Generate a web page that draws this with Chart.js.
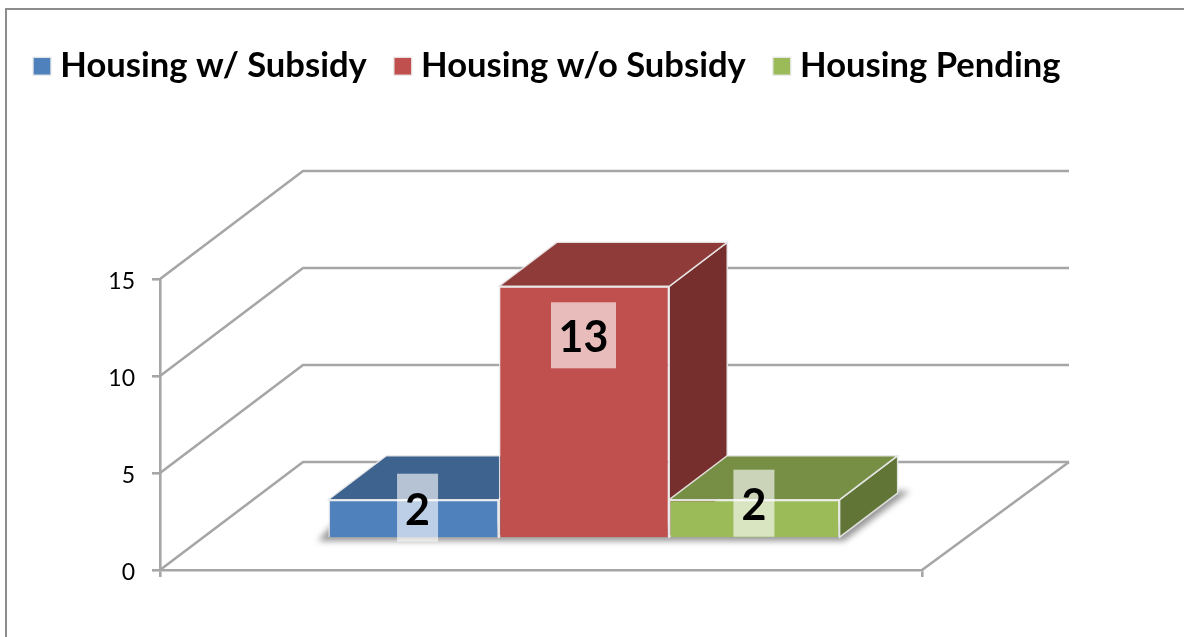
<!DOCTYPE html>
<html>
<head>
<meta charset="utf-8">
<title>Housing chart</title>
<script src="https://cdn.jsdelivr.net/npm/chart.js@4"></script>
<style>
  html, body { margin: 0; padding: 0; background: #fff; overflow: hidden; }
  canvas { display: block; }
</style>
</head>
<body>
<canvas id="housing" width="1184" height="637"></canvas>
<script>
// The values
var categories = [''];
var seriesNames = ['Housing w/ Subsidy', 'Housing w/o Subsidy', 'Housing Pending'];
var withSubsidy = [2];
var withoutSubsidy = [13];
var pending = [2];
var yMax = 15;
var yStep = 5;

// Colours per series: front, top, side
var frontColors = ['#4f81bd', '#c0504d', '#9bbb59'];
var topColors = ['#3e638f', '#8e3b39', '#778f45'];
var sideColors = ['#3a5a82', '#772f2d', '#617537'];
var gridColor = '#a6a6a6';
var edgeColor = 'rgba(235, 235, 235, 0.9)';

// Fake 3D geometry, in pixels
var wallDx = 143, wallDy = -108, wallDxRight = 147;
var barShiftX = 43, barShiftY = -31.5;
var barDepthX = 58, barDepthY = -44;
var labelBoxes = [[41, 68], [65, 66], [41, 67]];
var labelShift = [[4, 8], [-0.5, 49], [-0.5, 3.5]];

function poly(ctx, pts, fill, stroke) {
    ctx.beginPath();
    ctx.moveTo(pts[0][0], pts[0][1]);
    for (var i = 1; i < pts.length; i++) ctx.lineTo(pts[i][0], pts[i][1]);
    if (fill) { ctx.closePath(); ctx.fillStyle = fill; ctx.fill(); }
    if (stroke) { ctx.strokeStyle = stroke; ctx.stroke(); }
}

var fake3d = {
    id: 'fake3d',
    beforeInit: function (chart) {
        // push the plot area down, the legend stays on top
        var fit = chart.legend.fit;
        chart.legend.fit = function () {
            fit.call(this);
            this.height = 265;
        };
    },
    beforeDraw: function (chart) {
        var ctx = chart.ctx;
        // the frame only shows on top and left
        ctx.save();
        ctx.lineWidth = 2;
        poly(ctx, [[6, 637], [6, 9], [1184, 9]], null, '#8c8c8c');
        ctx.restore();
    },
    beforeDatasetsDraw: function (chart) {
        var ctx = chart.ctx, area = chart.chartArea, y = chart.scales.y;
        ctx.save();
        ctx.lineWidth = 2.6;
        y.ticks.forEach(function (t) {
            var py = y.getPixelForValue(t.value);
            poly(ctx, [
                [area.left, py],
                [area.left + wallDx, py + wallDy],
                [area.right + wallDxRight, py + wallDy]
            ], null, gridColor);
        });
        poly(ctx, [[area.right, area.bottom], [area.right + wallDxRight, area.bottom + wallDy]], null, gridColor);

        // soft shadow under the boxes
        ctx.filter = 'blur(3px)';
        poly(ctx, [[318, 541], [844, 541], [910, 491], [884, 491], [842, 525], [332, 525]], 'rgba(80, 80, 80, 0.6)');
        ctx.filter = 'none';

        // top and side faces, back to front
        ctx.lineWidth = 1.5;
        chart.data.datasets.forEach(function (ds, i) {
            var bar = chart.getDatasetMeta(i).data[0];
            var l = bar.x - bar.width / 2 + barShiftX, r = bar.x + bar.width / 2 + barShiftX;
            var t = bar.y + barShiftY, b = bar.base + barShiftY;
            poly(ctx, [[r, t], [r + barDepthX, t + barDepthY], [r + barDepthX, b + barDepthY], [r, b]], sideColors[i], edgeColor);
            poly(ctx, [[l, t], [l + barDepthX, t + barDepthY], [r + barDepthX, t + barDepthY], [r, t]], topColors[i], edgeColor);
        });
        ctx.restore();

        // the library draws the front faces on the shifted plane
        ctx.save();
        ctx.translate(barShiftX, barShiftY);
    },
    afterDatasetsDraw: function (chart) {
        var ctx = chart.ctx;
        ctx.restore();

        // value labels on pale boxes
        ctx.save();
        ctx.textAlign = 'center';
        ctx.textBaseline = 'middle';
        chart.data.datasets.forEach(function (ds, i) {
            var bar = chart.getDatasetMeta(i).data[0];
            var cx = bar.x + barShiftX + labelShift[i][0];
            var cy = bar.y + barShiftY + labelShift[i][1];
            var w = labelBoxes[i][0], h = labelBoxes[i][1];
            ctx.fillStyle = 'rgba(255, 255, 255, 0.62)';
            ctx.fillRect(cx - w / 2, cy - h / 2, w, h);
            ctx.fillStyle = '#000';
            ctx.font = 'bold 43px Lato';
            ctx.fillText(String(ds.data[0]), cx, cy + 3);
        });
        ctx.restore();
    }
};

var housing = document.getElementById('housing');

var myChart = new Chart(housing, {
    type: 'bar',
    data: {
        labels: categories,
        datasets: [
            { label: seriesNames[0], data: withSubsidy, backgroundColor: frontColors[0] },
            { label: seriesNames[1], data: withoutSubsidy, backgroundColor: frontColors[1] },
            { label: seriesNames[2], data: pending, backgroundColor: frontColors[2] }
        ].map(function (ds) {
            ds.borderColor = edgeColor;
            ds.borderWidth = 1.5;
            return ds;
        })
    },
    plugins: [fake3d],
    options: {
        responsive: false,
        animation: false,
        events: [],
        layout: {
            autoPadding: false,
            padding: { left: 6, top: 14, right: 0, bottom: 0 }
        },
        categoryPercentage: 0.671,
        barPercentage: 1,
        plugins: {
            tooltip: { enabled: false },
            legend: {
                position: 'top',
                align: 'start',
                labels: {
                    usePointStyle: true,
                    pointStyle: 'rect',
                    boxWidth: 2,
                    boxHeight: 18,
                    padding: 35,
                    color: '#000',
                    font: { family: 'Lato', size: 34.6, weight: 'bold' }
                }
            }
        },
        scales: {
            x: {
                grid: { drawOnChartArea: false, color: gridColor, lineWidth: 2.6, tickLength: 7 },
                border: { color: gridColor, width: 2.6 },
                ticks: { display: false },
                afterFit: function (axis) { axis.height = 67; }
            },
            y: {
                min: 0,
                max: yMax,
                grid: { drawOnChartArea: false, color: gridColor, lineWidth: 2.6, tickLength: 8 },
                border: { color: gridColor, width: 2.6 },
                ticks: {
                    stepSize: yStep,
                    padding: 17,
                    labelOffset: 3,
                    color: '#000',
                    font: { family: 'Lato', size: 23 }
                },
                afterFit: function (axis) { axis.width = 154; }
            },
            // keeps the room on the right for the back wall
            spacer: {
                position: 'right',
                grid: { display: false },
                border: { display: false },
                ticks: { display: false },
                afterFit: function (axis) { axis.width = 262; }
            }
        }
    }
});
</script>
</body>
</html>
